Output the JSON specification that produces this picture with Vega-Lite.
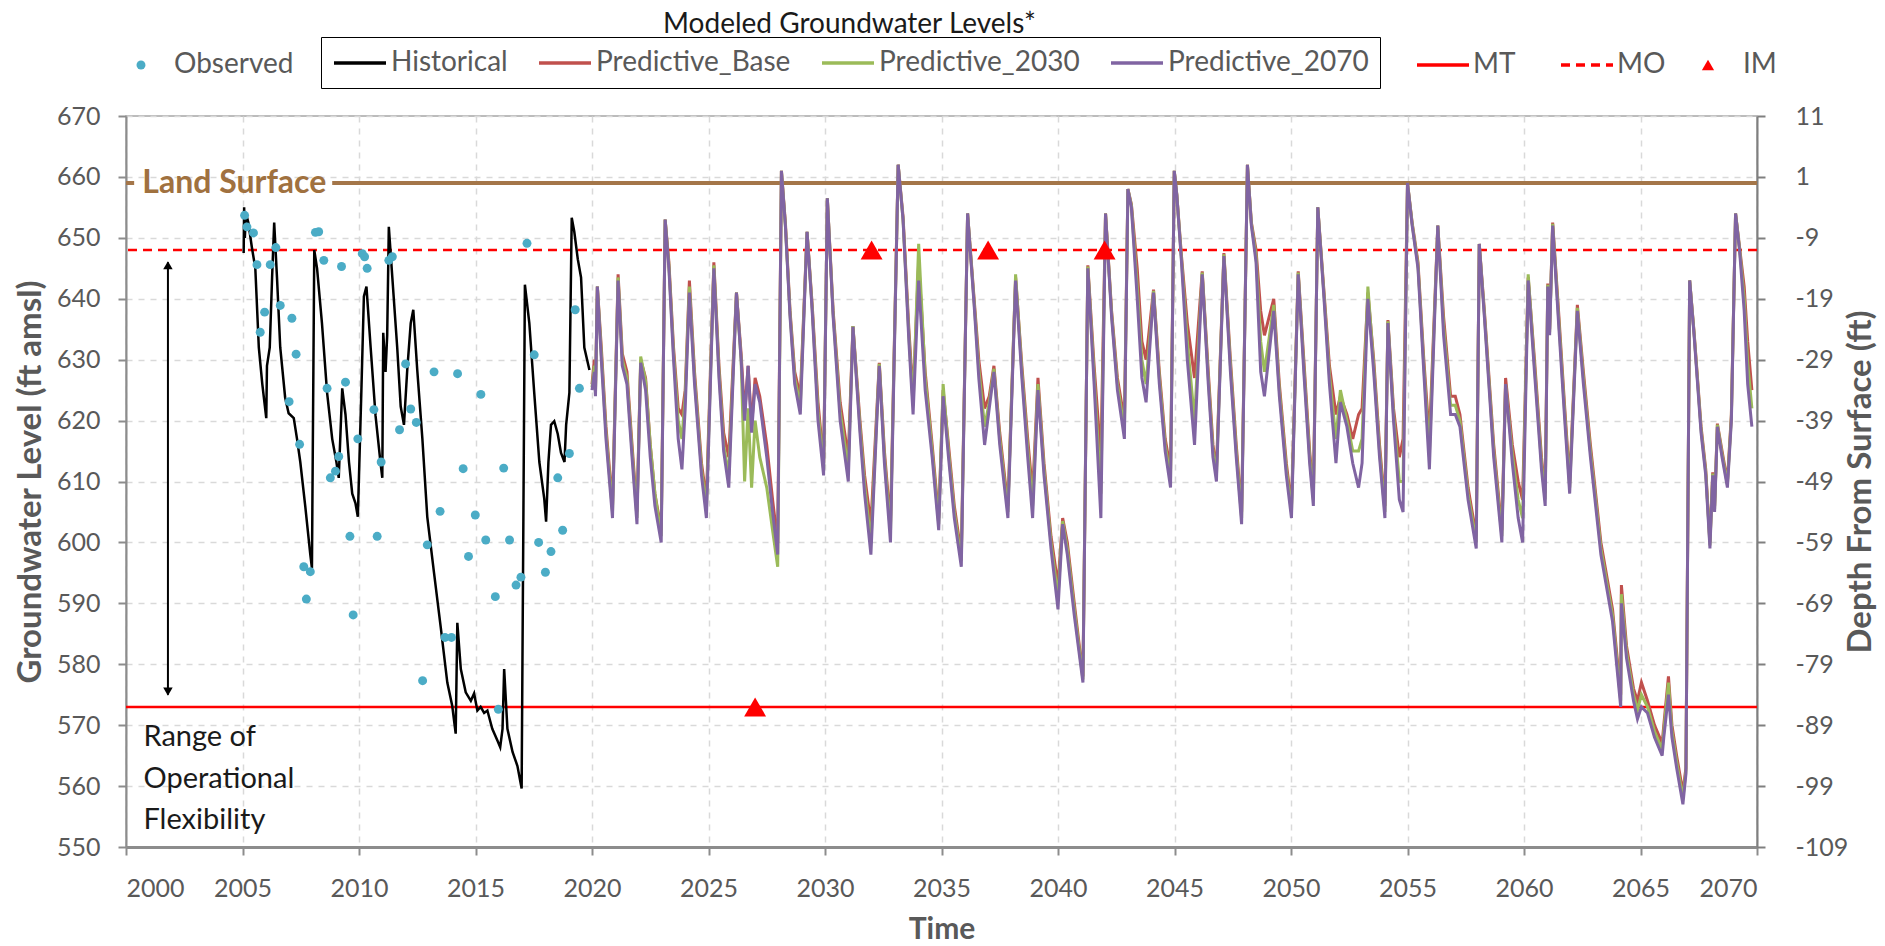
{
"$schema": "https://vega.github.io/schema/vega-lite/v6.json",
"width": 1631, "height": 731,
"autosize": {"type": "none"},
"padding": {"left": 126, "top": 116, "right": 128, "bottom": 99},
"background": "white",
"title": {"text": "Modeled Groundwater Levels*", "fontSize": 28, "font": "Lato", "fontWeight": "normal", "color": "#1a1a1a", "anchor": "middle", "frame": "group", "dx": -92, "offset": -2},
"config": {"font": "Lato", "view": {"stroke": "#A6A6A6", "strokeWidth": 1.5}},
"datasets": {
"hist": [{"t":2005.05,"v":647.5},{"t":2005.07,"v":655},{"t":2005.1,"v":650},{"t":2005.15,"v":654},{"t":2005.25,"v":652.5},{"t":2005.4,"v":648.5},{"t":2005.55,"v":645},{"t":2005.7,"v":632},{"t":2005.85,"v":626},{"t":2006.02,"v":620.4},{"t":2006.05,"v":629},{"t":2006.17,"v":632},{"t":2006.27,"v":643.5},{"t":2006.36,"v":652.5},{"t":2006.48,"v":643.5},{"t":2006.62,"v":632},{"t":2006.83,"v":623.8},{"t":2006.98,"v":621.2},{"t":2007.2,"v":620.4},{"t":2007.34,"v":617},{"t":2007.48,"v":613.2},{"t":2007.7,"v":605.7},{"t":2007.91,"v":598},{"t":2007.98,"v":595.8},{"t":2008.08,"v":648},{"t":2008.2,"v":645},{"t":2008.41,"v":636},{"t":2008.63,"v":624.6},{"t":2008.85,"v":617},{"t":2009.03,"v":613.2},{"t":2009.13,"v":610.6},{"t":2009.28,"v":625.3},{"t":2009.42,"v":621},{"t":2009.57,"v":613.2},{"t":2009.71,"v":608},{"t":2009.85,"v":606.4},{"t":2009.95,"v":604.2},{"t":2010.1,"v":624.6},{"t":2010.21,"v":640.4},{"t":2010.32,"v":642},{"t":2010.5,"v":632},{"t":2010.71,"v":620.8},{"t":2010.92,"v":613.2},{"t":2011.0,"v":610.6},{"t":2011.04,"v":634.4},{"t":2011.14,"v":628},{"t":2011.21,"v":634},{"t":2011.28,"v":651.8},{"t":2011.43,"v":643.5},{"t":2011.64,"v":632},{"t":2011.79,"v":622.3},{"t":2011.93,"v":619.3},{"t":2012.07,"v":628.3},{"t":2012.22,"v":636},{"t":2012.33,"v":638.2},{"t":2012.5,"v":628.3},{"t":2012.72,"v":617},{"t":2012.93,"v":604.2},{"t":2013.22,"v":595},{"t":2013.51,"v":586},{"t":2013.79,"v":577},{"t":2014.0,"v":573.2},{"t":2014.15,"v":568.6},{"t":2014.22,"v":586.8},{"t":2014.37,"v":579.2},{"t":2014.58,"v":575.4},{"t":2014.8,"v":574},{"t":2014.94,"v":575.2},{"t":2015.08,"v":572.4},{"t":2015.22,"v":573},{"t":2015.37,"v":572},{"t":2015.51,"v":572.4},{"t":2015.72,"v":569.4},{"t":2015.94,"v":567.5},{"t":2016.06,"v":566.4},{"t":2016.16,"v":569.4},{"t":2016.23,"v":579.2},{"t":2016.37,"v":569.4},{"t":2016.59,"v":565.6},{"t":2016.8,"v":563.3},{"t":2016.98,"v":559.6},{"t":2017.12,"v":642.3},{"t":2017.31,"v":636},{"t":2017.52,"v":624.6},{"t":2017.74,"v":613.2},{"t":2017.95,"v":607.2},{"t":2018.03,"v":603.4},{"t":2018.13,"v":613.2},{"t":2018.24,"v":619.3},{"t":2018.38,"v":619.9},{"t":2018.53,"v":617.8},{"t":2018.67,"v":614.7},{"t":2018.82,"v":613.2},{"t":2018.89,"v":619.3},{"t":2019.03,"v":624.6},{"t":2019.13,"v":653.3},{"t":2019.24,"v":651},{"t":2019.39,"v":646.5},{"t":2019.53,"v":643.5},{"t":2019.67,"v":632},{"t":2019.89,"v":628.3}],
"obs": [{"t":2005.09,"v":653.7},{"t":2005.19,"v":651.8},{"t":2005.47,"v":650.8},{"t":2005.62,"v":645.6},{"t":2005.76,"v":634.5},{"t":2005.95,"v":637.8},{"t":2006.19,"v":645.6},{"t":2006.43,"v":648.4},{"t":2006.62,"v":638.9},{"t":2007.0,"v":623.1},{"t":2007.12,"v":636.8},{"t":2007.3,"v":630.9},{"t":2007.45,"v":616.1},{"t":2007.63,"v":596},{"t":2007.74,"v":590.7},{"t":2007.91,"v":595.2},{"t":2008.13,"v":650.9},{"t":2008.27,"v":651},{"t":2008.49,"v":646.3},{"t":2008.63,"v":625.3},{"t":2008.77,"v":610.6},{"t":2008.99,"v":611.7},{"t":2009.13,"v":614.1},{"t":2009.25,"v":645.3},{"t":2009.42,"v":626.3},{"t":2009.61,"v":601},{"t":2009.75,"v":588.1},{"t":2009.95,"v":617},{"t":2010.14,"v":647.4},{"t":2010.24,"v":646.9},{"t":2010.35,"v":645},{"t":2010.64,"v":621.8},{"t":2010.78,"v":601},{"t":2010.95,"v":613.2},{"t":2011.28,"v":646.3},{"t":2011.43,"v":646.9},{"t":2011.74,"v":618.5},{"t":2012.0,"v":629.3},{"t":2012.22,"v":621.9},{"t":2012.46,"v":619.7},{"t":2012.73,"v":577.3},{"t":2012.93,"v":599.6},{"t":2013.22,"v":628},{"t":2013.48,"v":605.1},{"t":2013.69,"v":584.4},{"t":2013.97,"v":584.4},{"t":2014.23,"v":627.7},{"t":2014.47,"v":612.1},{"t":2014.7,"v":597.7},{"t":2014.99,"v":604.5},{"t":2015.23,"v":624.3},{"t":2015.44,"v":600.4},{"t":2015.85,"v":591.1},{"t":2015.98,"v":572.6},{"t":2016.21,"v":612.2},{"t":2016.46,"v":600.4},{"t":2016.74,"v":593},{"t":2016.95,"v":594.3},{"t":2017.21,"v":649.1},{"t":2017.52,"v":630.8},{"t":2017.71,"v":600},{"t":2018.0,"v":595.1},{"t":2018.24,"v":598.5},{"t":2018.53,"v":610.6},{"t":2018.74,"v":602},{"t":2019.03,"v":614.6},{"t":2019.28,"v":638.2},{"t":2019.46,"v":625.3}],
"pred": [{"t":2020.0,"b":626,"c":625.5,"d":625},{"t":2020.1,"b":630,"c":629,"d":628},{"t":2020.15,"b":625,"c":624.5,"d":624},{"t":2020.23,"b":642,"c":642,"d":642},{"t":2020.4,"b":632,"c":631,"d":630},{"t":2020.6,"b":619,"c":618,"d":617},{"t":2020.88,"b":606,"c":605,"d":604},{"t":2021.12,"b":644,"c":643.5,"d":643},{"t":2021.3,"b":631,"c":630,"d":629},{"t":2021.5,"b":628,"c":627,"d":626},{"t":2021.7,"b":617,"c":616,"d":615},{"t":2021.93,"b":605,"c":604,"d":603},{"t":2022.09,"b":630,"c":630.5,"d":629.5},{"t":2022.3,"b":627,"c":626.5,"d":625},{"t":2022.5,"b":616,"c":616,"d":614},{"t":2022.7,"b":608,"c":608,"d":606},{"t":2022.97,"b":602,"c":601,"d":600},{"t":2023.14,"b":653,"c":653,"d":653},{"t":2023.3,"b":646,"c":645.5,"d":645},{"t":2023.5,"b":632,"c":631,"d":630},{"t":2023.7,"b":622,"c":620,"d":617},{"t":2023.86,"b":621,"c":617,"d":612},{"t":2024.0,"b":625,"c":624,"d":622},{"t":2024.18,"b":643,"c":642,"d":641},{"t":2024.4,"b":628,"c":627,"d":626},{"t":2024.7,"b":613,"c":612,"d":611},{"t":2024.91,"b":607,"c":605.5,"d":604},{"t":2025.23,"b":646,"c":645.5,"d":645},{"t":2025.45,"b":629,"c":628,"d":627},{"t":2025.65,"b":618,"c":616,"d":615},{"t":2025.87,"b":614,"c":611,"d":609},{"t":2026.2,"b":641,"c":641,"d":641},{"t":2026.4,"b":631,"c":630,"d":630},{"t":2026.55,"b":621,"c":610,"d":620},{"t":2026.7,"b":629,"c":622,"d":629},{"t":2026.85,"b":619,"c":609,"d":618},{"t":2027.0,"b":627,"c":620,"d":626},{"t":2027.2,"b":624,"c":614,"d":623},{"t":2027.5,"b":616,"c":609,"d":614},{"t":2027.75,"b":607,"c":602,"d":605},{"t":2027.97,"b":600,"c":596,"d":598},{"t":2028.13,"b":661,"c":661,"d":661},{"t":2028.3,"b":652.5,"c":652,"d":652},{"t":2028.5,"b":638,"c":637.5,"d":637},{"t":2028.7,"b":628,"c":627,"d":626},{"t":2028.94,"b":624,"c":622.5,"d":621},{"t":2029.23,"b":651,"c":651,"d":651},{"t":2029.45,"b":639,"c":638.5,"d":638},{"t":2029.7,"b":623,"c":621.5,"d":620},{"t":2029.94,"b":613,"c":612,"d":611},{"t":2030.1,"b":656.5,"c":656.5,"d":656.5},{"t":2030.35,"b":638,"c":637.5,"d":637},{"t":2030.65,"b":623,"c":621.5,"d":620},{"t":2031.0,"b":614,"c":612,"d":610},{"t":2031.2,"b":635.5,"c":635.5,"d":635.4},{"t":2031.5,"b":620,"c":619,"d":618},{"t":2031.7,"b":611,"c":609.5,"d":608},{"t":2031.97,"b":603,"c":600,"d":598},{"t":2032.33,"b":629.5,"c":629.3,"d":629},{"t":2032.55,"b":615,"c":614,"d":613},{"t":2032.81,"b":603,"c":601.5,"d":600},{"t":2033.14,"b":662,"c":662,"d":662},{"t":2033.35,"b":653.5,"c":653,"d":653},{"t":2033.6,"b":635,"c":634,"d":633},{"t":2033.78,"b":624,"c":622.5,"d":621},{"t":2034.02,"b":646,"c":649,"d":643},{"t":2034.3,"b":628,"c":627,"d":625},{"t":2034.6,"b":616,"c":615,"d":614},{"t":2034.88,"b":604,"c":603,"d":602},{"t":2035.07,"b":625,"c":626,"d":624},{"t":2035.3,"b":616,"c":615,"d":614},{"t":2035.55,"b":606,"c":605,"d":604},{"t":2035.85,"b":598,"c":597,"d":596},{"t":2036.12,"b":654,"c":654,"d":654},{"t":2036.4,"b":640,"c":639.5,"d":639},{"t":2036.6,"b":630,"c":628.5,"d":627},{"t":2036.85,"b":622,"c":619,"d":616},{"t":2037.05,"b":624,"c":623,"d":622},{"t":2037.25,"b":629,"c":628.5,"d":628},{"t":2037.5,"b":618,"c":617,"d":616},{"t":2037.85,"b":606,"c":605,"d":604},{"t":2038.18,"b":643.5,"c":644,"d":643},{"t":2038.45,"b":629,"c":628,"d":627},{"t":2038.7,"b":617,"c":615.5,"d":614},{"t":2038.91,"b":608,"c":606,"d":604},{"t":2039.14,"b":627,"c":626,"d":625},{"t":2039.4,"b":613,"c":612,"d":611},{"t":2039.7,"b":601,"c":600,"d":599},{"t":2040.0,"b":593,"c":591,"d":589},{"t":2040.2,"b":604,"c":603.5,"d":603},{"t":2040.4,"b":600,"c":599,"d":598},{"t":2040.7,"b":590,"c":589,"d":588},{"t":2041.07,"b":578,"c":577.5,"d":577},{"t":2041.28,"b":645.5,"c":645.3,"d":645},{"t":2041.55,"b":629,"c":627.5,"d":626},{"t":2041.84,"b":614,"c":608,"d":604},{"t":2042.04,"b":654,"c":654,"d":654},{"t":2042.3,"b":638,"c":637.5,"d":637},{"t":2042.55,"b":627,"c":626,"d":625},{"t":2042.85,"b":620,"c":618.5,"d":617},{"t":2043.0,"b":658,"c":658,"d":658},{"t":2043.15,"b":655.5,"c":655.3,"d":655},{"t":2043.4,"b":645,"c":642,"d":640},{"t":2043.6,"b":633,"c":630,"d":627},{"t":2043.78,"b":630,"c":626,"d":623},{"t":2044.1,"b":641.5,"c":641.3,"d":641},{"t":2044.35,"b":628,"c":627,"d":626},{"t":2044.6,"b":617,"c":616,"d":615},{"t":2044.83,"b":612,"c":610.5,"d":609},{"t":2044.99,"b":661,"c":661,"d":661},{"t":2045.1,"b":657,"c":657,"d":657},{"t":2045.3,"b":647,"c":646.5,"d":646},{"t":2045.55,"b":636,"c":633,"d":630},{"t":2045.86,"b":627,"c":620,"d":616},{"t":2046.19,"b":644.5,"c":644.3,"d":644},{"t":2046.45,"b":628,"c":627,"d":626},{"t":2046.65,"b":616,"c":615,"d":614},{"t":2046.8,"b":612,"c":611,"d":610},{"t":2047.12,"b":647.5,"c":647.3,"d":647},{"t":2047.4,"b":630,"c":629,"d":628},{"t":2047.65,"b":616,"c":615,"d":614},{"t":2047.88,"b":605,"c":604,"d":603},{"t":2048.13,"b":662,"c":662,"d":662},{"t":2048.3,"b":652.5,"c":652.3,"d":652},{"t":2048.5,"b":648,"c":647,"d":646},{"t":2048.7,"b":638,"c":633,"d":628},{"t":2048.86,"b":634,"c":628,"d":624},{"t":2049.26,"b":640,"c":639,"d":638},{"t":2049.5,"b":626,"c":625,"d":624},{"t":2049.8,"b":613,"c":612,"d":611},{"t":2050.02,"b":606,"c":605,"d":604},{"t":2050.31,"b":644.5,"c":644.3,"d":644},{"t":2050.55,"b":630,"c":629,"d":628},{"t":2050.8,"b":615,"c":614,"d":613},{"t":2050.96,"b":608,"c":607,"d":606},{"t":2051.15,"b":655,"c":655,"d":655},{"t":2051.4,"b":642,"c":641.5,"d":641},{"t":2051.65,"b":629,"c":627.5,"d":626},{"t":2051.93,"b":621,"c":617,"d":613},{"t":2052.12,"b":624,"c":625,"d":623},{"t":2052.4,"b":621,"c":620,"d":619},{"t":2052.65,"b":617,"c":615,"d":613},{"t":2052.9,"b":621,"c":615,"d":609},{"t":2053.05,"b":622,"c":617,"d":613},{"t":2053.3,"b":641,"c":642,"d":640},{"t":2053.55,"b":630,"c":629,"d":628},{"t":2053.8,"b":616,"c":615,"d":614},{"t":2054.03,"b":606,"c":605,"d":604},{"t":2054.16,"b":636.5,"c":636.3,"d":636},{"t":2054.4,"b":622,"c":621,"d":620},{"t":2054.65,"b":614,"c":610,"d":607},{"t":2054.81,"b":617,"c":610,"d":605},{"t":2055.0,"b":659,"c":659,"d":659},{"t":2055.2,"b":652.5,"c":652.3,"d":652},{"t":2055.45,"b":646,"c":645.5,"d":645},{"t":2055.7,"b":630,"c":629,"d":628},{"t":2055.94,"b":617,"c":614.5,"d":612},{"t":2056.3,"b":652,"c":652,"d":652},{"t":2056.55,"b":637,"c":635.5,"d":634},{"t":2056.85,"b":624,"c":622.5,"d":621},{"t":2057.05,"b":624,"c":622.5,"d":621},{"t":2057.25,"b":621,"c":620,"d":619},{"t":2057.6,"b":609,"c":608,"d":607},{"t":2057.95,"b":601,"c":600,"d":599},{"t":2058.08,"b":649,"c":649,"d":649},{"t":2058.3,"b":638,"c":637.5,"d":637},{"t":2058.7,"b":616,"c":615,"d":614},{"t":2059.05,"b":602,"c":601,"d":600},{"t":2059.21,"b":627,"c":626,"d":626},{"t":2059.5,"b":616,"c":614.5,"d":613},{"t":2059.75,"b":610,"c":607,"d":604},{"t":2059.94,"b":607,"c":604,"d":600},{"t":2060.18,"b":643.5,"c":644,"d":643},{"t":2060.45,"b":630,"c":629,"d":628},{"t":2060.75,"b":614,"c":613,"d":612},{"t":2060.91,"b":608,"c":607,"d":606},{"t":2061.02,"b":642.5,"c":642.3,"d":642},{"t":2061.1,"b":635,"c":634.5,"d":634},{"t":2061.23,"b":652.5,"c":652.3,"d":652},{"t":2061.5,"b":637,"c":636,"d":635},{"t":2061.75,"b":622,"c":621,"d":620},{"t":2061.96,"b":610,"c":609,"d":608},{"t":2062.29,"b":639,"c":638.5,"d":638},{"t":2062.55,"b":628,"c":627,"d":626},{"t":2062.85,"b":616,"c":615,"d":614},{"t":2063.3,"b":600,"c":599,"d":598},{"t":2063.8,"b":589,"c":588,"d":587},{"t":2064.15,"b":575,"c":574,"d":573},{"t":2064.18,"b":593,"c":591.5,"d":590},{"t":2064.4,"b":583,"c":582,"d":581},{"t":2064.7,"b":576,"c":575,"d":574},{"t":2064.87,"b":574,"c":572.5,"d":571},{"t":2065.04,"b":577,"c":575,"d":573},{"t":2065.3,"b":574,"c":573,"d":572},{"t":2065.6,"b":570,"c":569,"d":568},{"t":2065.93,"b":567,"c":566,"d":565},{"t":2066.0,"b":570,"c":569,"d":568},{"t":2066.2,"b":578,"c":577,"d":575},{"t":2066.35,"b":570,"c":569,"d":568},{"t":2066.55,"b":565,"c":564,"d":563},{"t":2066.82,"b":559,"c":558,"d":557},{"t":2066.95,"b":563,"c":562.5,"d":562},{"t":2067.11,"b":643,"c":643,"d":643},{"t":2067.3,"b":634.5,"c":634.3,"d":634},{"t":2067.6,"b":619,"c":618.5,"d":618},{"t":2067.8,"b":612,"c":611.5,"d":611},{"t":2067.98,"b":600,"c":599.5,"d":599},{"t":2068.1,"b":611.5,"c":611.3,"d":611},{"t":2068.18,"b":606,"c":605.5,"d":605},{"t":2068.3,"b":619.5,"c":619.3,"d":619},{"t":2068.5,"b":615,"c":614.5,"d":614},{"t":2068.73,"b":610,"c":609.5,"d":609},{"t":2068.9,"b":621,"c":620.5,"d":620},{"t":2069.08,"b":654,"c":654,"d":654},{"t":2069.25,"b":648.5,"c":648.3,"d":648},{"t":2069.45,"b":642,"c":640,"d":638},{"t":2069.6,"b":633,"c":629.5,"d":626},{"t":2069.78,"b":625,"c":622,"d":619}]
},
"layer": [
{"layer": [
 {"data": {"values": [{"t":2000,"t2":2000.35,"v":659},{"t":2008.85,"t2":2070,"v":659}]},
  "mark": {"type": "rule", "color": "#A47649", "strokeWidth": 4},
  "encoding": {
   "x": {"field": "t", "type": "quantitative", "scale": {"domain": [2000, 2070], "nice": false, "zero": false},
    "axis": {"title": "Time", "values": [2000,2005,2010,2015,2020,2025,2030,2035,2040,2045,2050,2055,2060,2065,2070], "format": "d", "grid": true, "gridDash": [6,6], "gridColor": "#D9D9D9", "gridWidth": 1.5, "domainColor": "#8C8C8C", "domainWidth": 3, "tickColor": "#8C8C8C", "tickWidth": 2, "tickSize": 8, "labelPadding": 21, "labelFontSize": 25, "labelColor": "#595959", "titleFontSize": 30, "titleFontWeight": "bold", "titleColor": "#595959", "titlePadding": 13}},
   "x2": {"field": "t2"},
   "y": {"field": "v", "type": "quantitative", "scale": {"domain": [550, 670], "nice": false, "zero": false},
    "axis": {"title": "Groundwater Level (ft amsl)", "values": [550,560,570,580,590,600,610,620,630,640,650,660,670], "format": "d", "grid": true, "gridDash": [6,6], "gridColor": "#D9D9D9", "gridWidth": 1.5, "domainColor": "#8C8C8C", "domainWidth": 2, "tickColor": "#8C8C8C", "tickWidth": 2, "tickSize": 8, "labelPadding": 18, "labelFontSize": 25, "labelColor": "#595959", "titleFontSize": 33, "titleFontWeight": "bold", "titleColor": "#595959", "titlePadding": 9}}
  }},
 {"data": {"values": [{"t":2000.7,"v":659,"txt":"Land Surface"}]},
  "mark": {"type": "text", "align": "left", "baseline": "middle", "fontSize": 32, "fontWeight": "bold", "color": "#A0713F"},
  "encoding": {"x": {"field": "t", "type": "quantitative"}, "y": {"field": "v", "type": "quantitative"}, "text": {"field": "txt"}}},
 {"data": {"values": [{"ref":"MT","v":573},{"ref":"MO","v":648}]},
  "mark": {"type": "rule", "color": "#FF0000", "strokeWidth": 2.5},
  "encoding": {"y": {"field": "v", "type": "quantitative"},
   "strokeDash": {"field": "ref", "type": "nominal", "scale": {"domain": ["MT","MO"], "range": [[1,0],[9,6]]},
    "legend": {"orient": "none", "legendX": 1289, "legendY": -66, "direction": "horizontal", "title": null, "padding": 0, "symbolType": "M-1,0H3", "symbolSize": 676, "symbolOffset": 0, "symbolStrokeColor": "#FF0000", "symbolStrokeWidth": 3.5, "labelFontSize": 28, "labelColor": "#595959", "labelOffset": 28, "columnPadding": 38}}}},
 {"data": {"values": [{"t":2001.8,"v":575,"v2":646}]},
  "mark": {"type": "rule", "color": "#000000", "strokeWidth": 2},
  "encoding": {"x": {"field": "t", "type": "quantitative"}, "y": {"field": "v", "type": "quantitative"}, "y2": {"field": "v2"}}},
 {"data": {"values": [{"t":2001.8,"v":645.5}]},
  "mark": {"type": "point", "shape": "triangle-up", "filled": true, "color": "#000000", "size": 90, "opacity": 1},
  "encoding": {"x": {"field": "t", "type": "quantitative"}, "y": {"field": "v", "type": "quantitative"}}},
 {"data": {"values": [{"t":2001.8,"v":575.5}]},
  "mark": {"type": "point", "shape": "triangle-down", "filled": true, "color": "#000000", "size": 90, "opacity": 1},
  "encoding": {"x": {"field": "t", "type": "quantitative"}, "y": {"field": "v", "type": "quantitative"}}},
 {"data": {"values": [{"t":2000.75,"v":568.1,"txt":"Range of"},{"t":2000.75,"v":561.2,"txt":"Operational"},{"t":2000.75,"v":554.4,"txt":"Flexibility"}]},
  "mark": {"type": "text", "align": "left", "baseline": "middle", "fontSize": 29, "color": "#1a1a1a"},
  "encoding": {"x": {"field": "t", "type": "quantitative"}, "y": {"field": "v", "type": "quantitative"}, "text": {"field": "txt"}}},
 {"data": {"name": "hist"},
  "mark": {"type": "line", "strokeWidth": 2.5},
  "encoding": {"x": {"field": "t", "type": "quantitative"}, "y": {"field": "v", "type": "quantitative"},
   "stroke": {"datum": "Historical", "type": "nominal", "scale": {"domain": ["Historical","Predictive_Base","Predictive_2030","Predictive_2070"], "range": ["#000000","#C0504D","#9BBB59","#8064A2"]},
    "legend": {"orient": "none", "legendX": 195, "legendY": -79, "direction": "horizontal", "title": null, "strokeColor": "#000000", "padding": 11, "symbolType": "M-1,0H3", "symbolSize": 676, "symbolOffset": 0, "symbolStrokeWidth": 3.5, "labelFontSize": 28, "labelColor": "#595959", "labelOffset": 29, "columnPadding": 24, "labelLimit": 400}}}},
 {"data": {"name": "obs"},
  "mark": {"type": "point", "filled": true, "size": 80, "opacity": 1},
  "encoding": {"x": {"field": "t", "type": "quantitative"}, "y": {"field": "v", "type": "quantitative"},
   "fill": {"datum": "Observed", "type": "nominal", "scale": {"domain": ["Observed"], "range": ["#4BACC6"]},
    "legend": {"orient": "none", "legendX": 1, "legendY": -65, "title": null, "padding": 0, "symbolType": "circle", "symbolSize": 80, "labelFontSize": 28, "labelColor": "#595959", "labelOffset": 19}}}},
 {"data": {"name": "pred"},
  "mark": {"type": "line", "strokeWidth": 3},
  "encoding": {"x": {"field": "t", "type": "quantitative"}, "y": {"field": "b", "type": "quantitative"}, "stroke": {"datum": "Predictive_Base", "type": "nominal"}}},
 {"data": {"name": "pred"},
  "mark": {"type": "line", "strokeWidth": 3},
  "encoding": {"x": {"field": "t", "type": "quantitative"}, "y": {"field": "c", "type": "quantitative"}, "stroke": {"datum": "Predictive_2030", "type": "nominal"}}},
 {"data": {"name": "pred"},
  "mark": {"type": "line", "strokeWidth": 3},
  "encoding": {"x": {"field": "t", "type": "quantitative"}, "y": {"field": "d", "type": "quantitative"}, "stroke": {"datum": "Predictive_2070", "type": "nominal"}}},
 {"data": {"values": [{"t":2027,"v":573},{"t":2032,"v":648},{"t":2037,"v":648},{"t":2042,"v":648}]},
  "mark": {"type": "point", "filled": true, "color": "#FF0000", "size": 480, "opacity": 1},
  "encoding": {"x": {"field": "t", "type": "quantitative"}, "y": {"field": "v", "type": "quantitative"},
   "shape": {"datum": "IM", "type": "nominal", "scale": {"domain": ["IM"], "range": ["triangle-up"]},
    "legend": {"orient": "none", "legendX": 1568, "legendY": -65, "title": null, "padding": 0, "symbolSize": 150, "symbolFillColor": "#FF0000", "symbolStrokeColor": "#FF0000", "labelFontSize": 28, "labelColor": "#595959", "labelOffset": 21}}}}
]},
{"data": {"values": [{"dep": 0}]},
 "mark": {"type": "rule", "opacity": 0},
 "encoding": {"y": {"field": "dep", "type": "quantitative", "scale": {"domain": [-109, 11], "nice": false, "zero": false},
  "axis": {"orient": "right", "title": "Depth From Surface (ft)", "values": [11,1,-9,-19,-29,-39,-49,-59,-69,-79,-89,-99,-109], "labelExpr": "datum.value + ''", "grid": false, "domainColor": "#7F7F7F", "domainWidth": 2, "tickColor": "#7F7F7F", "tickWidth": 2, "tickSize": 8, "labelPadding": 30, "labelFontSize": 25, "labelColor": "#595959", "titleFontSize": 33, "titleFontWeight": "bold", "titleColor": "#595959", "titleAngle": 270, "titlePadding": 30}}}}
],
"resolve": {"scale": {"y": "independent"}}
}
